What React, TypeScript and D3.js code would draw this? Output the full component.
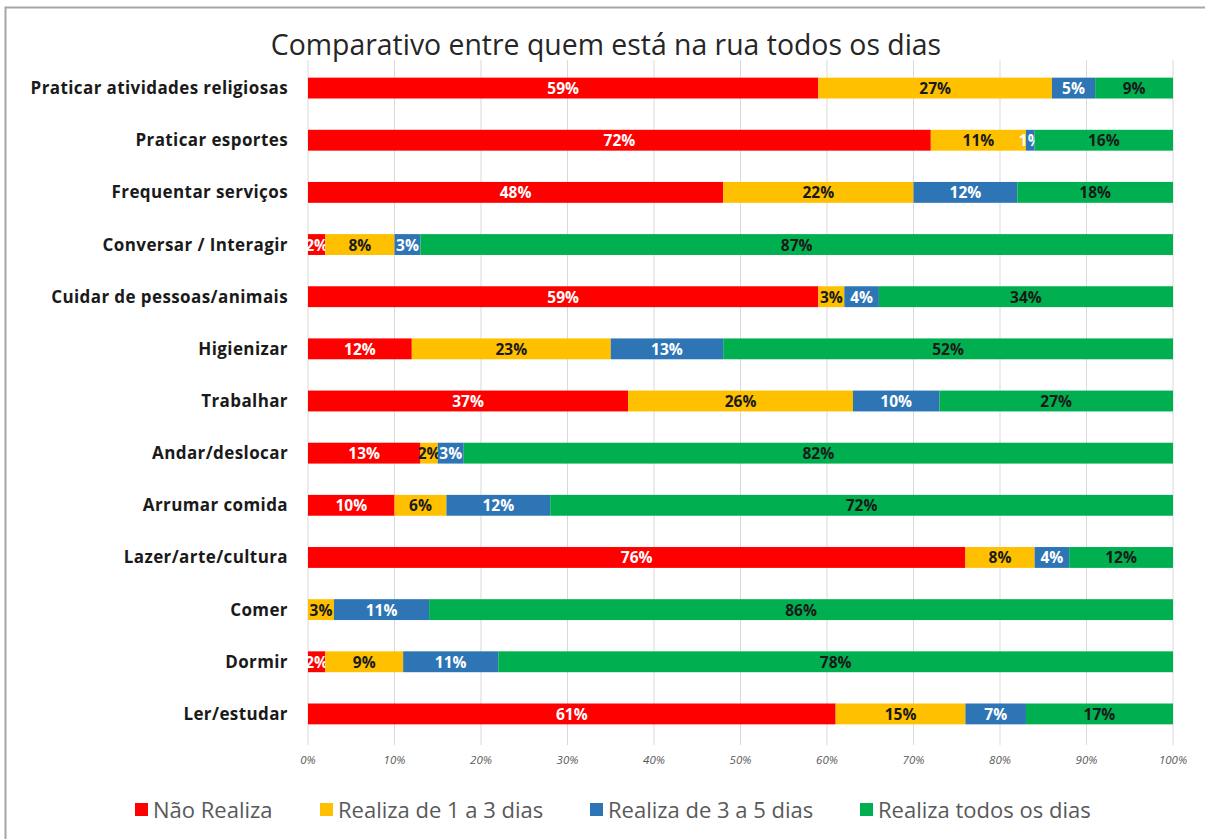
import * as d3 from 'd3'

const categories = [
  'Praticar atividades religiosas',
  'Praticar esportes',
  'Frequentar serviços',
  'Conversar / Interagir',
  'Cuidar de pessoas/animais',
  'Higienizar',
  'Trabalhar',
  'Andar/deslocar',
  'Arrumar comida',
  'Lazer/arte/cultura',
  'Comer',
  'Dormir',
  'Ler/estudar',
]
const seriesNames = ['Não Realiza', 'Realiza de 1 a 3 dias', 'Realiza de 3 a 5 dias', 'Realiza todos os dias']
const naoRealiza = [59, 72, 48, 2, 59, 12, 37, 13, 10, 76, 0, 2, 61]
const de1a3 = [27, 11, 22, 8, 3, 23, 26, 2, 6, 8, 3, 9, 15]
const de3a5 = [5, 1, 12, 3, 4, 13, 10, 3, 12, 4, 11, 11, 7]
const todosDias = [9, 16, 18, 87, 34, 52, 27, 82, 72, 12, 86, 78, 17]
const xTicks = [0, 10, 20, 30, 40, 50, 60, 70, 80, 90, 100]

const colors = ['#FF0000', '#FFC000', '#2E75B6', '#00B050']
const labelColors = ['#ffffff', '#1a1a1a', '#ffffff', '#1a1a1a']
const font = '"Open Sans", Lato, sans-serif'

export default function App() {
  const width = 1205
  const height = 839
  const rows = categories.map((c, i) => ({
    name: c,
    values: [naoRealiza[i], de1a3[i], de3a5[i], todosDias[i]],
  }))
  const stack = d3.stack<any>().keys(['0', '1', '2', '3']).value((d, k) => d.values[+k])
  const layers = stack(rows)

  const x = d3.scaleLinear().domain([0, 100]).range([308, 1173])
  const y = d3.scaleBand().domain(categories).range([62, 740]).paddingInner(0.6).paddingOuter(0.3)

  const legendX = [135, 320, 590, 860]

  return (
    <svg width={width} height={height} style={{ position: 'absolute', left: 0, top: 0 }}>
      <rect x={0} y={0} width={width} height={height} fill="#fff" />
      <rect x={5.5} y={7.5} width={width + 10} height={height + 10} fill="none" stroke="#a6a6a6" strokeWidth={2} />
      <text x={606} y={55} textAnchor="middle" fontFamily={font} fontSize={28.4} fill="#262626">
        Comparativo entre quem está na rua todos os dias
      </text>
      {xTicks.map(t => (
        <g key={t}>
          <line x1={x(t)} x2={x(t)} y1={60} y2={745} stroke="#d9d9d9" strokeWidth={1} />
          <text x={x(t)} y={764} textAnchor="middle" fontFamily={font} fontStyle="italic" fontSize={11.5} fill="#595959">
            {t}%
          </text>
        </g>
      ))}
      {layers.map((layer, si) => (
        <g key={si}>
          {layer.map((d, i) => {
            const x0 = x(d[0])
            const x1 = x(d[1])
            const v = d[1] - d[0]
            const yy = y(categories[i])!
            return (
              <g key={i}>
                <rect x={x0} y={yy} width={x1 - x0} height={y.bandwidth()} fill={colors[si]} />
                {v > 0 && (
                  <text
                    x={(x0 + x1) / 2}
                    y={yy + y.bandwidth() / 2 + 6}
                    textAnchor="middle"
                    fontFamily={font}
                    fontWeight="bold"
                    fontSize={15.5}
                    fill={labelColors[si]}
                  >
                    {v}%
                  </text>
                )}
              </g>
            )
          })}
        </g>
      ))}
      {categories.map(c => (
        <text
          key={c}
          x={288}
          y={y(c)! + y.bandwidth() / 2 + 6}
          textAnchor="end"
          fontFamily={font}
          fontWeight="bold"
          fontSize={17}
          letterSpacing={0.4}
          fill="#1a1a1a"
        >
          {c}
        </text>
      ))}
      {seriesNames.map((s, i) => (
        <g key={s}>
          <rect x={legendX[i]} y={803} width={13} height={13} fill={colors[i]} />
          <text x={legendX[i] + 18} y={818} fontFamily={font} fontSize={22} fill="#595959">
            {s}
          </text>
        </g>
      ))}
    </svg>
  )
}
